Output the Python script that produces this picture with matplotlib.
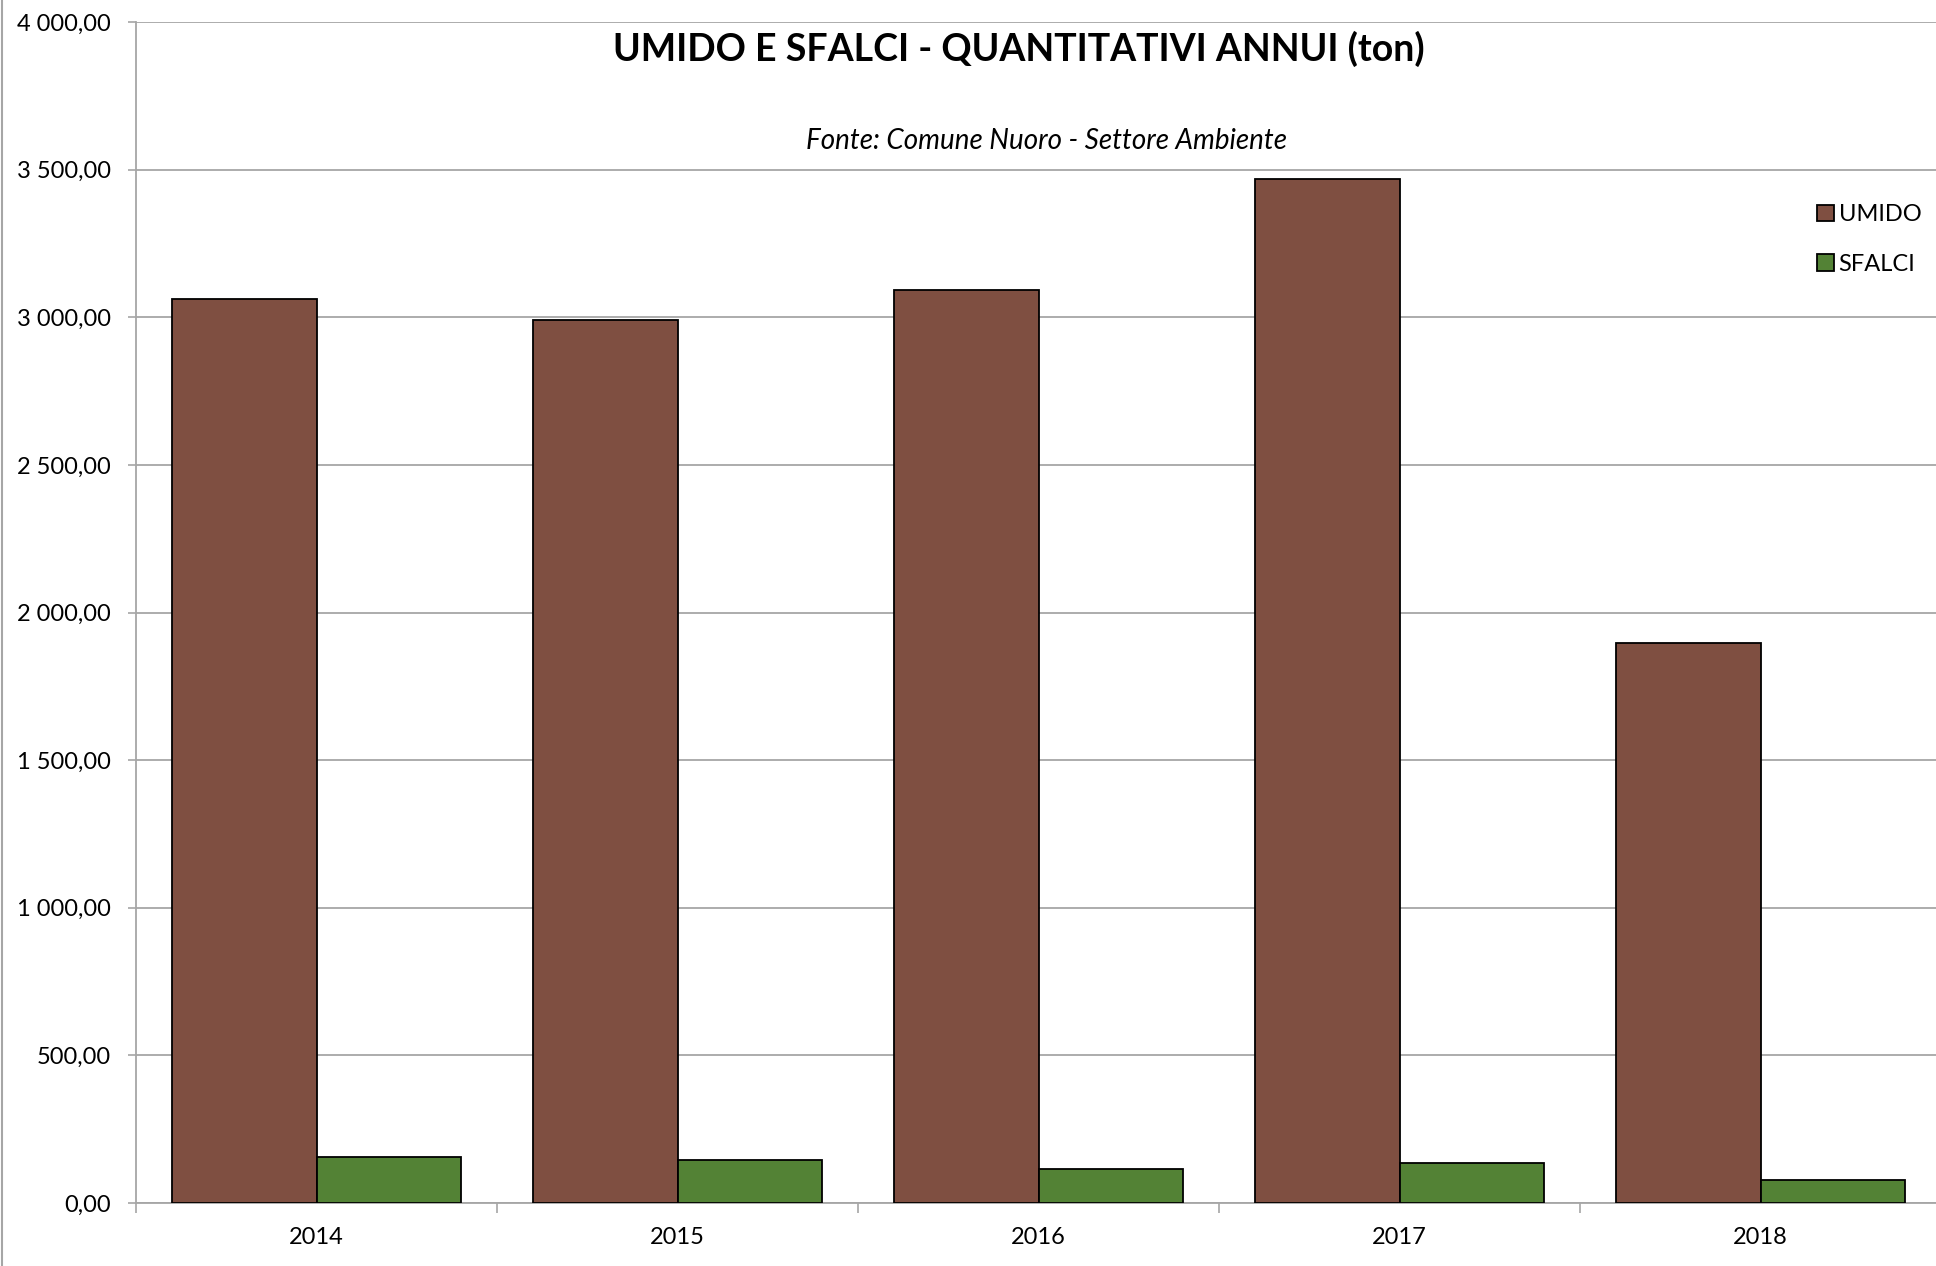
import matplotlib.pyplot as plt
import numpy as np
from matplotlib.ticker import FuncFormatter, FixedLocator

years = ["2014", "2015", "2016", "2017", "2018"]
umido = [3063, 2991, 3092, 3467, 1897]
sfalci = [157, 146, 114, 137, 77]
series_names = ["UMIDO", "SFALCI"]
y_ticks = [0, 500, 1000, 1500, 2000, 2500, 3000, 3500, 4000]

BROWN = "#7f4f41"
GREEN = "#538235"
GRID = "#a6a6a6"

plt.rcParams["font.family"] = ["Lato", "DejaVu Sans"]

W, H = 1936, 1266
fig = plt.figure(figsize=(W / 100, H / 100), dpi=100)
ax_left = 136 / W
ax_bottom = 1 - 1203 / H
ax_top = 1 - 22 / H
ax_right = 1941 / W
ax = fig.add_axes([ax_left, ax_bottom, ax_right - ax_left, ax_top - ax_bottom])

x = np.arange(len(years))
bw = 0.4
ax.bar(x - bw / 2, umido, bw, color=BROWN, edgecolor="black", linewidth=1.3,
       label=series_names[0], zorder=3)
ax.bar(x + bw / 2, sfalci, bw, color=GREEN, edgecolor="black", linewidth=1.3,
       label=series_names[1], zorder=3)

ax.set_xlim(-0.5, len(years) - 0.5)
ax.set_ylim(0, 4000)
ax.set_yticks(y_ticks)
ax.yaxis.set_major_formatter(
    FuncFormatter(lambda v, _: f"{v:,.2f}".replace(",", " ").replace(".", ","))
)
ax.set_xticks(x)
ax.set_xticklabels(years)
ax.xaxis.set_minor_locator(FixedLocator(np.arange(len(years) + 1) - 0.5))
ax.tick_params(axis="x", which="major", length=0, pad=17, labelsize=17)
ax.tick_params(axis="x", which="minor", length=7, color=GRID, width=1.2)
ax.tick_params(axis="y", length=6, color=GRID, width=1.2, pad=12, labelsize=17)

ax.grid(axis="y", color=GRID, linewidth=1.3, zorder=0)
for side in ["top", "right"]:
    ax.spines[side].set_visible(False)
for side in ["left", "bottom"]:
    ax.spines[side].set_color(GRID)
    ax.spines[side].set_linewidth(1.3)

fig.text(1019 / W, 1 - 49 / H, "UMIDO E SFALCI - QUANTITATIVI ANNUI (ton)",
         ha="center", va="center", fontsize=27, fontweight="bold")
fig.text(1047 / W, 1 - 141 / H, "Fonte: Comune Nuoro - Settore Ambiente",
         ha="center", va="center", fontsize=20, style="italic")

ax.legend(loc="upper left", bbox_to_anchor=((1808 - 136) / (1941 - 136), 1 - (195 - 22) / (1203 - 22)),
          frameon=False, fontsize=17, handlelength=0.7, handleheight=0.7,
          handletextpad=0.2, labelspacing=1.2, borderaxespad=0)

# chart border line on the left edge
fig.add_artist(plt.Line2D([0.0008, 0.0008], [0, 1], color=GRID, linewidth=1.5,
                          transform=fig.transFigure))

fig.savefig("out.png", dpi=100)
